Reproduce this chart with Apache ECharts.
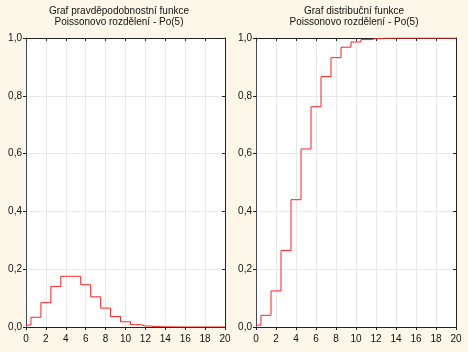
<!DOCTYPE html>
<html><head><meta charset="utf-8">
<script src="https://cdn.jsdelivr.net/npm/echarts@6/dist/echarts.min.js"></script>
<style>html,body{margin:0;padding:0;background:#fdf7ea}#c{width:468px;height:352px}</style>
</head><body><div id="c"></div>
<script>
const xValues = [0,1,2,3,4,5,6,7,8,9,10,11,12,13,14,15,16,17,18,19,20];
const pmfValues = [0.0067,0.0337,0.0842,0.1404,0.1755,0.1755,0.1462,0.1044,0.0653,0.0363,0.0181,0.0082,0.0034,0.0013,0.0005,0.0002,0,0,0,0,0];
const cdfValues = [0.0067,0.0404,0.1247,0.2650,0.4405,0.6160,0.7622,0.8666,0.9319,0.9682,0.9863,0.9945,0.9980,0.9993,0.9998,0.9999,1,1,1,1,1];
const titleLeft = ['Graf pravděpodobnostní funkce','Poissonovo rozdělení - Po(5)'];
const titleRight = ['Graf distribuční funkce','Poissonovo rozdělení - Po(5)'];

const font = 'Liberation Sans, Arial, sans-serif';
const chart = echarts.init(document.getElementById('c'));
const grids = [
  {left:26, right:243, top:38, bottom:25},
  {left:256, right:12, top:38, bottom:25}
];
function xAx(i){
  return [{
    type:'value', gridIndex:i, min:0, max:20, interval:2,
    axisLine:{show:true,onZero:false,lineStyle:{color:'#222',width:1}},
    axisTick:{show:true,inside:false,length:3,lineStyle:{color:'#222'}},
    axisLabel:{fontSize:10,color:'#111',fontFamily:font,margin:7},
    splitLine:{show:true,lineStyle:{color:'#e8e8e8',width:1}}
  },{
    type:'value', gridIndex:i, position:'top', min:0, max:20, interval:2,
    axisLine:{show:true,onZero:false,lineStyle:{color:'#222',width:1}},
    axisTick:{show:true,inside:true,length:3,lineStyle:{color:'#222'}},
    axisLabel:{show:false}, splitLine:{show:false}
  }];
}
function yAx(i){
  return [{
    type:'value', gridIndex:i, min:0, max:1, interval:0.2,
    axisLine:{show:true,onZero:false,lineStyle:{color:'#444a60',width:1}},
    axisTick:{show:true,inside:false,length:3,lineStyle:{color:'#222'}},
    axisLabel:{fontSize:10,color:'#111',fontFamily:font,margin:4,
      formatter:v=>v.toFixed(1).replace('.',',')},
    splitLine:{show:true,lineStyle:{color:'#e8e8e8',width:1}}
  },{
    type:'value', gridIndex:i, position:'right', min:0, max:1, interval:0.2,
    axisLine:{show:true,onZero:false,lineStyle:{color:'#222',width:1}},
    axisTick:{show:true,inside:true,length:3,lineStyle:{color:'#222'}},
    axisLabel:{show:false}, splitLine:{show:false}
  }];
}
function pairs(ys){ return xValues.map((x,i)=>[x,ys[i]]); }
function titleText(lines, cx){
  return lines.map((t,k)=>({type:'text', x:cx, y:6+k*11,
    style:{text:t, fill:'#111', font:'10px '+font, textAlign:'center', textVerticalAlign:'top'}}));
}
chart.setOption({
  backgroundColor:'#fdf7ea',
  animation:false,
  grid: grids.map(g=>Object.assign({show:true,backgroundColor:'#ffffff',borderWidth:0},g)),
  xAxis: [...xAx(0), ...xAx(1)],
  yAxis: [...yAx(0), ...yAx(1)],
  series: [
    {type:'line', xAxisIndex:0, yAxisIndex:0, step:'middle', showSymbol:false,
     data:pairs(pmfValues), lineStyle:{color:'#ff2020',width:1}, clip:true},
    {type:'line', xAxisIndex:2, yAxisIndex:2, step:'middle', showSymbol:false,
     data:pairs(cdfValues), lineStyle:{color:'#ff2020',width:1}, clip:true}
  ],
  graphic: [...titleText(titleLeft,119), ...titleText(titleRight,354)]
});
</script></body></html>
